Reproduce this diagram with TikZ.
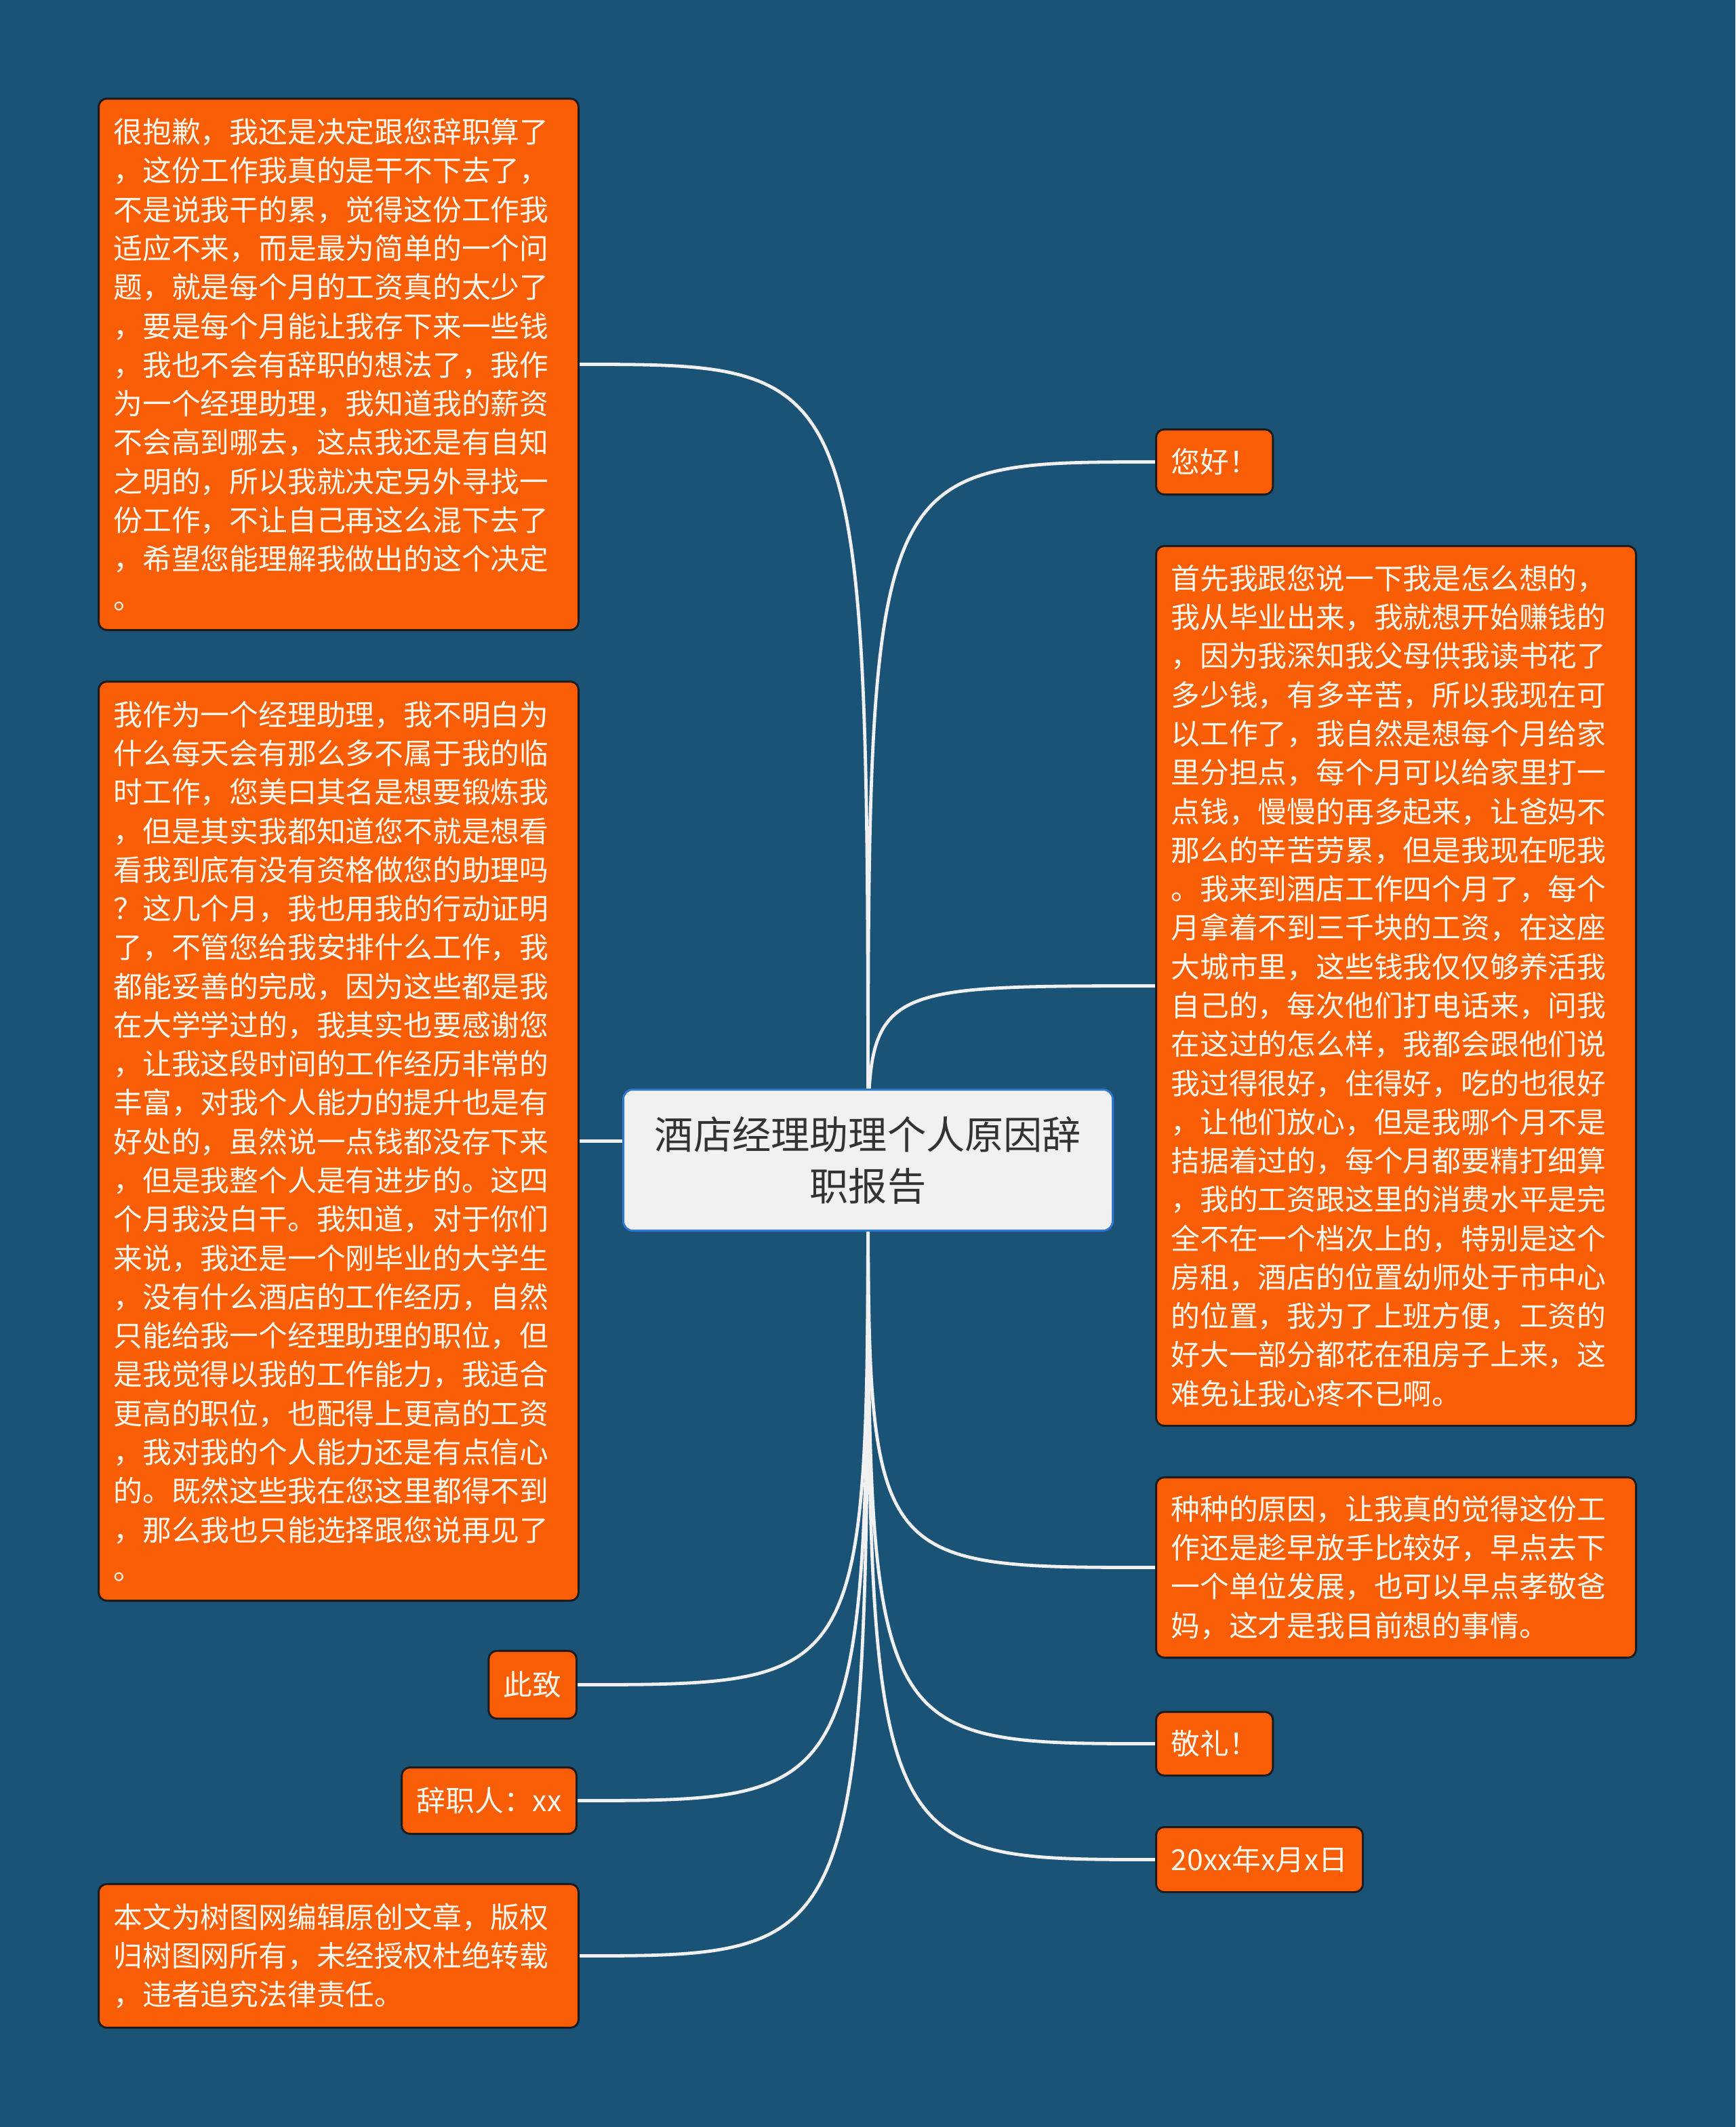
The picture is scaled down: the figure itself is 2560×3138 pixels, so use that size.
\documentclass[tikz,border=0pt]{standalone}
\usepackage{fontspec}
\setmainfont{Noto Sans CJK SC}
\usepackage{xcolor}
\usetikzlibrary{positioning, calc}

\definecolor{bgblue}{HTML}{1B5377}
\definecolor{leaforange}{HTML}{F95D06}
\definecolor{leafline}{HTML}{1C1C1C}
\definecolor{leaftext}{HTML}{FFF8EE}
\definecolor{rootfill}{HTML}{F1F1F1}
\definecolor{rootline}{HTML}{2E78D0}
\definecolor{roottext}{HTML}{333333}
\definecolor{linkwhite}{HTML}{F0F0F0}

\pgfdeclarelayer{back}
\pgfdeclarelayer{links}
\pgfsetlayers{back,links,main}

\begin{document}
\begin{tikzpicture}[
    x=0.25pt, y=-0.25pt,        % 1 unit = 1 px of the 2560x3138 sheet
    leaf/.style={draw=leafline, fill=leaforange, line width=0.75pt,
        rounded corners=3pt, text=leaftext, align=left,
        inner xsep=5.5pt, inner ysep=0pt,
        font=\fontsize{10.7pt}{14.32pt}\selectfont},
    longleaf/.style={leaf, text width=166pt},
    root/.style={draw=rootline, fill=rootfill, line width=0.75pt,
        rounded corners=3.5pt, text=roottext, align=center,
        minimum width=180.5pt, minimum height=52pt, inner sep=0pt,
        font=\fontsize{14.3pt}{19pt}\selectfont},
    link/.style={draw=linkwhite, line width=1.2pt},
]

\useasboundingbox (0,0) rectangle (2560,3138);
\begin{pgfonlayer}{back}
    \fill[bgblue] (0,0) rectangle (2560,3138);
\end{pgfonlayer}

% -------------------------------------------------
% Centre topic
% -------------------------------------------------
\node[root, anchor=north west] (root) at (918,1606)
    {酒店经理助理个人原因辞\\职报告};

% -------------------------------------------------
% Left branches
% -------------------------------------------------
\node[longleaf, anchor=north west, minimum height=196pt] (qian) at (144,144)
    {很抱歉，我还是决定跟您辞职算了\\
     ，这份工作我真的是干不下去了，\\
     不是说我干的累，觉得这份工作我\\
     适应不来，而是最为简单的一个问\\
     题，就是每个月的工资真的太少了\\
     ，要是每个月能让我存下来一些钱\\
     ，我也不会有辞职的想法了，我作\\
     为一个经理助理，我知道我的薪资\\
     不会高到哪去，这点我还是有自知\\
     之明的，所以我就决定另外寻找一\\
     份工作，不让自己再这么混下去了\\
     ，希望您能理解我做出的这个决定\\
     。};

\node[longleaf, anchor=north west, minimum height=339pt] (linshi) at (144,1004)
    {我作为一个经理助理，我不明白为\\
     什么每天会有那么多不属于我的临\\
     时工作，您美曰其名是想要锻炼我\\
     ，但是其实我都知道您不就是想看\\
     看我到底有没有资格做您的助理吗\\
     ？这几个月，我也用我的行动证明\\
     了，不管您给我安排什么工作，我\\
     都能妥善的完成，因为这些都是我\\
     在大学学过的，我其实也要感谢您\\
     ，让我这段时间的工作经历非常的\\
     丰富，对我个人能力的提升也是有\\
     好处的，虽然说一点钱都没存下来\\
     ，但是我整个人是有进步的。这四\\
     个月我没白干。我知道，对于你们\\
     来说，我还是一个刚毕业的大学生\\
     ，没有什么酒店的工作经历，自然\\
     只能给我一个经理助理的职位，但\\
     是我觉得以我的工作能力，我适合\\
     更高的职位，也配得上更高的工资\\
     ，我对我的个人能力还是有点信心\\
     的。既然这些我在您这里都得不到\\
     ，那么我也只能选择跟您说再见了\\
     。};

\node[leaf, anchor=north east, minimum height=25pt] (cizhi) at (852,2434) {此致};
\node[leaf, anchor=north east, minimum height=24.5pt] (cizhiren) at (852,2606) {辞职人：xx};

\node[longleaf, anchor=north west, minimum height=53pt] (banquan) at (144,2778)
    {本文为树图网编辑原创文章，版权\\
     归树图网所有，未经授权杜绝转载\\
     ，违者追究法律责任。};

% -------------------------------------------------
% Right branches
% -------------------------------------------------
\node[leaf, anchor=north west, minimum height=24pt] (ninhao) at (1704,632) {您好！};

\node[longleaf, anchor=north west, minimum height=324.5pt] (yuanyin) at (1704,804)
    {首先我跟您说一下我是怎么想的，\\
     我从毕业出来，我就想开始赚钱的\\
     ，因为我深知我父母供我读书花了\\
     多少钱，有多辛苦，所以我现在可\\
     以工作了，我自然是想每个月给家\\
     里分担点，每个月可以给家里打一\\
     点钱，慢慢的再多起来，让爸妈不\\
     那么的辛苦劳累，但是我现在呢我\\
     。我来到酒店工作四个月了，每个\\
     月拿着不到三千块的工资，在这座\\
     大城市里，这些钱我仅仅够养活我\\
     自己的，每次他们打电话来，问我\\
     在这过的怎么样，我都会跟他们说\\
     我过得很好，住得好，吃的也很好\\
     ，让他们放心，但是我哪个月不是\\
     拮据着过的，每个月都要精打细算\\
     ，我的工资跟这里的消费水平是完\\
     全不在一个档次上的，特别是这个\\
     房租，酒店的位置幼师处于市中心\\
     的位置，我为了上班方便，工资的\\
     好大一部分都花在租房子上来，这\\
     难免让我心疼不已啊。};

\node[longleaf, anchor=north west, minimum height=66.5pt] (zhongzhong) at (1704,2178)
    {种种的原因，让我真的觉得这份工\\
     作还是趁早放手比较好，早点去下\\
     一个单位发展，也可以早点孝敬爸\\
     妈，这才是我目前想的事情。};

\node[leaf, anchor=north west, minimum height=23.5pt] (jingli) at (1704,2524) {敬礼！};
\node[leaf, anchor=north west, minimum height=24pt] (riqi) at (1704,2694) {20xx年x月x日};

% -------------------------------------------------
% Links (behind the nodes, from the centre of the topic)
% -------------------------------------------------
\begin{pgfonlayer}{links}
    \foreach \leafname in {qian, linshi, cizhi, cizhiren, banquan}
        \draw[link] (root.center) .. controls (root.center |- \leafname.east) .. (\leafname.east);
    \foreach \leafname in {ninhao, yuanyin, zhongzhong, jingli, riqi}
        \draw[link] (root.center) .. controls (root.center |- \leafname.west) .. (\leafname.west);
\end{pgfonlayer}

\end{tikzpicture}
\end{document}
